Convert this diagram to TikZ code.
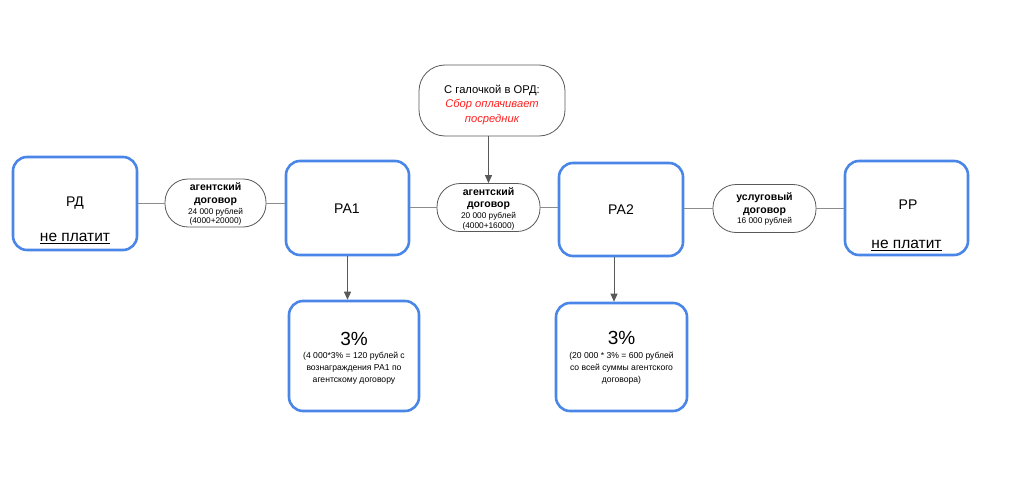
\documentclass[tikz,border=0pt]{standalone}
\usepackage{fontspec}
\setmainfont{Liberation Sans}
\usetikzlibrary{arrows.meta}
\definecolor{bblue}{HTML}{4A86E8}
\definecolor{lgray}{HTML}{8C8C8C}
\definecolor{dgray}{HTML}{595959}
\definecolor{rred}{HTML}{FF2020}
\newcommand{\hd}[1]{{\fontsize{10.5}{12}\selectfont\bfseries #1}}
\newcommand{\sm}[1]{{\fontsize{8.3}{9}\selectfont #1}}
\newcommand{\pillfont}{\fontsize{8.3}{9.5}\selectfont\lineskiplimit=-20pt\relax}
\tikzset{
  bluebox/.style={draw=bblue, line width=2.6pt, rounded corners=14pt, fill=white, inner sep=0pt},
  pill/.style={draw=dgray, line width=0.8pt, rounded corners=23pt, fill=white, inner sep=0pt, align=center},
  topbox/.style={draw=dgray, line width=0.8pt, rounded corners=26pt, fill=white, inner sep=0pt, align=center},
  conn/.style={draw=lgray, line width=1pt},
  arr/.style={draw=dgray, line width=1pt, -{Triangle[length=8pt,width=7pt]}},
  lbl/.style={inner sep=0pt, align=center},
  pilltext/.style={lbl, font=\pillfont}
}
\begin{document}
\begin{tikzpicture}[x=1pt,y=-1pt]
\useasboundingbox (0,0) rectangle (1024,476);
% main boxes
\node[bluebox, minimum width=124pt, minimum height=93pt] (rd) at (75,203.5) {};
\node[bluebox, minimum width=123pt, minimum height=94pt] (ra1) at (347.5,208) {};
\node[bluebox, minimum width=124pt, minimum height=93pt] (ra2) at (621,209.5) {};
\node[bluebox, minimum width=123pt, minimum height=94pt] (rr) at (906.5,208) {};
% pills
\node[pill, minimum width=101pt, minimum height=48pt] (p1) at (215.5,203) {};
\node[pill, minimum width=103pt, minimum height=48pt] (p2) at (488.5,207.5) {};
\node[pill, minimum width=103pt, minimum height=48pt] (p3) at (764.5,208.5) {};
% top box
\node[topbox, minimum width=146pt, minimum height=71pt] (top) at (492,100.5) {};
% bottom boxes
\node[bluebox, minimum width=130pt, minimum height=110pt] (b1) at (354,356) {};
\node[bluebox, minimum width=131pt, minimum height=108pt] (b2) at (621.5,357) {};
% connectors
\draw[conn] (rd.east |- p1.west) -- (p1.west);
\draw[conn] (p1.east) -- (p1.east -| ra1.west);
\draw[conn] (ra1.east |- p2.west) -- (p2.west);
\draw[conn] (p2.east) -- (p2.east -| ra2.west);
\draw[conn] (ra2.east |- p3.west) -- (p3.west);
\draw[conn] (p3.east) -- (p3.east -| rr.west);
\draw[arr] (top.south -| p2.north) -- (p2.north);
\draw[arr] (ra1.south) -- (ra1.south |- b1.north);
\path (ra2.south) ++(-7,0) coordinate (ra2a);
\draw[arr] (ra2a) -- (ra2a |- b2.north);
% texts
\node[lbl, font=\fontsize{14}{16}\selectfont] (rdt) at (75,203) {РД};
\node[lbl, font=\fontsize{15.5}{16}\selectfont, anchor=base] (rdn) at (75,241.5) {\underline{не платит}};
\node[lbl, font=\fontsize{14}{16}\selectfont] (ra1t) at (347,209) {РА1};
\node[lbl, font=\fontsize{14}{16}\selectfont] (ra2t) at (621,210) {РА2};
\node[lbl, font=\fontsize{14}{16}\selectfont] (rrt) at (908,205) {РР};
\node[lbl, font=\fontsize{15.5}{16}\selectfont, anchor=base] (rrn) at (906.5,248.5) {\underline{не платит}};
\node[pilltext] (p1t) at (215.5,204) {\hd{агентский}\\[3pt]\hd{договор}\\[2pt]\sm{24 000 рублей}\\[-0.5pt]\sm{(4000+20000)}};
\node[pilltext] (p2t) at (488.5,209) {\hd{агентский}\\[2pt]\hd{договор}\\[2pt]\sm{20 000 рублей}\\[0pt]\sm{(4000+16000)}};
\node[pilltext] (p3t) at (764.5,209) {\hd{услуговый}\\[3pt]\hd{договор}\\[1pt]\sm{16 000 рублей}};
\node[lbl, font=\fontsize{11.2}{14.5}\selectfont] (topt) at (492,105) {С галочкой в ОРД:\\\textcolor{rred}{\itshape Сбор оплачивает}\\\textcolor{rred}{\itshape посредник}};
\node[lbl, font=\fontsize{19}{20}\selectfont] (b1p) at (354,338.5) {3\%};
\node[lbl, font=\fontsize{8.6}{12}\selectfont] (b1t) at (354,368.5) {(4 000*3\% = 120 рублей с\\вознаграждения РА1 по\\агентскому договору};
\node[lbl, font=\fontsize{19}{20}\selectfont] (b2p) at (621.5,337.5) {3\%};
\node[lbl, font=\fontsize{8.6}{12}\selectfont] (b2t) at (621.5,368) {(20 000 * 3\% = 600 рублей\\со всей суммы агентского\\договора)};
\end{tikzpicture}
\end{document}
